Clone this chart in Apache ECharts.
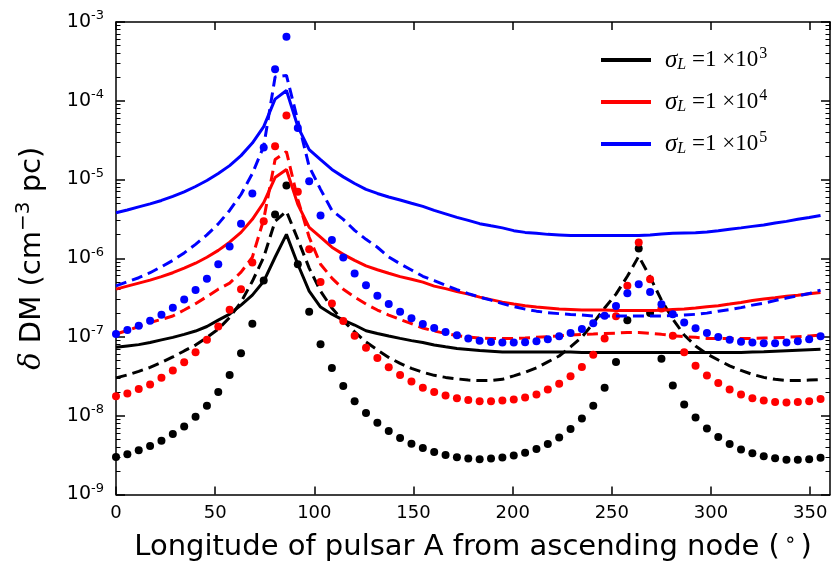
<!DOCTYPE html>
<html><head><meta charset="utf-8">
<script src="https://cdn.jsdelivr.net/npm/echarts@6/dist/echarts.min.js"></script>
<style>html,body{margin:0;padding:0;background:#fff}#c{width:832px;height:567px}</style>
</head><body><div id="c"></div>
<script>
// longitude samples (degrees), every 0.1 rad
const longitudes = [0, 5.73, 11.46, 17.19, 22.92, 28.65, 34.38, 40.11, 45.84, 51.57,
  57.30, 63.03, 68.75, 74.48, 80.21, 85.94, 91.67, 97.40, 103.13, 108.86,
  114.59, 120.32, 126.05, 131.78, 137.51, 143.24, 148.97, 154.70, 160.43, 166.16,
  171.89, 177.62, 183.35, 189.08, 194.81, 200.54, 206.27, 212.00, 217.72, 223.45,
  229.18, 234.91, 240.64, 246.37, 252.10, 257.83, 263.56, 269.29, 275.02, 280.75,
  286.48, 292.21, 297.94, 303.67, 309.40, 315.13, 320.86, 326.59, 332.32, 338.05,
  343.77, 349.50, 355.23];

// sigma_L = 1e3 (black)
const blackSolid = [7.4e-8, 7.7e-8, 8.0e-8, 8.5e-8, 9.2e-8, 9.9e-8, 1.08e-7, 1.19e-7, 1.36e-7, 1.64e-7,
  1.95e-7, 2.54e-7, 3.4e-7, 5.1e-7, 1.03e-6, 2.01e-6, 8.4e-7, 3.82e-7, 2.4e-7, 1.95e-7,
  1.64e-7, 1.42e-7, 1.2e-7, 1.11e-7, 1.03e-7, 9.6e-8, 9.0e-8, 8.5e-8, 7.9e-8, 7.5e-8,
  7.15e-8, 6.95e-8, 6.75e-8, 6.6e-8, 6.45e-8, 6.45e-8, 6.45e-8, 6.45e-8, 6.45e-8, 6.45e-8,
  6.45e-8, 6.35e-8, 6.35e-8, 6.35e-8, 6.35e-8, 6.35e-8, 6.35e-8, 6.35e-8, 6.35e-8, 6.35e-8,
  6.35e-8, 6.35e-8, 6.35e-8, 6.35e-8, 6.35e-8, 6.35e-8, 6.45e-8, 6.5e-8, 6.6e-8, 6.7e-8,
  6.8e-8, 6.9e-8, 7.0e-8];
const blackDash = [3.03e-8, 3.3e-8, 3.66e-8, 4.11e-8, 4.75e-8, 5.58e-8, 6.65e-8, 7.9e-8, 9.86e-8, 1.26e-7,
  1.77e-7, 2.77e-7, 5.1e-7, 1.03e-6, 2.94e-6, 3.94e-6, 1.74e-6, 7.5e-7, 3.82e-7, 2.33e-7,
  1.6e-7, 1.16e-7, 8.65e-8, 6.85e-8, 5.5e-8, 4.62e-8, 3.99e-8, 3.56e-8, 3.26e-8, 3.07e-8,
  2.94e-8, 2.84e-8, 2.8e-8, 2.8e-8, 2.9e-8, 3.21e-8, 3.56e-8, 4.05e-8, 4.83e-8, 5.74e-8,
  7.47e-8, 1.0e-7, 1.5e-7, 2.33e-7, 3.5e-7, 5.9e-7, 1.06e-6, 5.75e-7, 2.94e-7, 1.69e-7,
  1.06e-7, 7.7e-8, 6.1e-8, 5.1e-8, 4.3e-8, 3.77e-8, 3.35e-8, 3.07e-8, 2.9e-8, 2.8e-8,
  2.8e-8, 2.84e-8, 2.88e-8];
const blackDot = [3.0e-9, 3.24e-9, 3.64e-9, 4.13e-9, 4.83e-9, 5.86e-9, 7.3e-9, 9.7e-9, 1.34e-8, 2.0e-8,
  3.3e-8, 6.2e-8, 1.47e-7, 5.2e-7, 3.6e-6, 8.4e-6, 8.4e-7, 2.09e-7, 8.1e-8, 4.05e-8,
  2.38e-8, 1.53e-8, 1.08e-8, 8.15e-9, 6.4e-9, 5.22e-9, 4.42e-9, 3.9e-9, 3.47e-9, 3.18e-9,
  2.97e-9, 2.86e-9, 2.8e-9, 2.86e-9, 2.94e-9, 3.12e-9, 3.4e-9, 3.79e-9, 4.38e-9, 5.3e-9,
  6.8e-9, 9.2e-9, 1.34e-8, 2.26e-8, 4.8e-8, 1.63e-7, 1.33e-6, 2.02e-7, 5.3e-8, 2.43e-8,
  1.39e-8, 9.5e-9, 6.9e-9, 5.37e-9, 4.38e-9, 3.74e-9, 3.33e-9, 3.05e-9, 2.88e-9, 2.77e-9,
  2.76e-9, 2.8e-9, 2.92e-9];

// sigma_L = 1e4 (red)
const redSolid = [4.05e-7, 4.43e-7, 4.83e-7, 5.27e-7, 5.84e-7, 6.55e-7, 7.47e-7, 8.65e-7, 1.03e-6, 1.26e-6,
  1.6e-6, 2.13e-6, 3.12e-6, 5.1e-6, 1.06e-5, 1.34e-5, 4.83e-6, 2.47e-6, 1.85e-6, 1.38e-6,
  1.12e-6, 9.4e-7, 8.0e-7, 7.15e-7, 6.46e-7, 5.84e-7, 5.42e-7, 4.97e-7, 4.43e-7, 4.11e-7,
  3.77e-7, 3.5e-7, 3.21e-7, 2.98e-7, 2.77e-7, 2.62e-7, 2.49e-7, 2.4e-7, 2.33e-7, 2.26e-7,
  2.23e-7, 2.2e-7, 2.2e-7, 2.2e-7, 2.17e-7, 2.17e-7, 2.17e-7, 2.17e-7, 2.19e-7, 2.23e-7,
  2.26e-7, 2.33e-7, 2.42e-7, 2.5e-7, 2.62e-7, 2.75e-7, 2.9e-7, 3.03e-7, 3.16e-7, 3.3e-7,
  3.4e-7, 3.53e-7, 3.68e-7];
const redDash = [1.09e-7, 1.21e-7, 1.36e-7, 1.53e-7, 1.67e-7, 1.85e-7, 2.2e-7, 2.65e-7, 3.26e-7, 4.05e-7,
  4.83e-7, 6.65e-7, 1.03e-6, 3.12e-6, 1.79e-5, 2.26e-5, 5.6e-6, 1.85e-6, 8.4e-7, 5.6e-7,
  4.05e-7, 3.21e-7, 2.62e-7, 2.2e-7, 1.9e-7, 1.67e-7, 1.48e-7, 1.3e-7, 1.19e-7, 1.11e-7,
  1.04e-7, 1.0e-7, 9.7e-8, 9.6e-8, 9.6e-8, 9.6e-8, 9.7e-8, 9.9e-8, 1.01e-7, 1.03e-7,
  1.06e-7, 1.08e-7, 1.09e-7, 1.11e-7, 1.12e-7, 1.14e-7, 1.14e-7, 1.11e-7, 1.08e-7, 1.04e-7,
  1.01e-7, 9.9e-8, 9.6e-8, 9.6e-8, 9.6e-8, 9.6e-8, 9.6e-8, 9.7e-8, 9.8e-8, 9.9e-8,
  1.01e-7, 1.03e-7, 1.06e-7];
const redDot = [1.77e-8, 1.91e-8, 2.18e-8, 2.49e-8, 3.03e-8, 3.75e-8, 4.78e-8, 6.4e-8, 9.2e-8, 1.36e-7,
  2.22e-7, 4.05e-7, 8.8e-7, 2.96e-6, 2.64e-5, 6.5e-5, 7.0e-6, 1.30e-6, 5.0e-7, 2.67e-7,
  1.60e-7, 1.04e-7, 7.3e-8, 5.4e-8, 4.13e-8, 3.3e-8, 2.72e-8, 2.26e-8, 2.0e-8, 1.81e-8,
  1.67e-8, 1.58e-8, 1.53e-8, 1.53e-8, 1.56e-8, 1.61e-8, 1.71e-8, 1.86e-8, 2.15e-8, 2.54e-8,
  3.18e-8, 4.17e-8, 5.97e-8, 9.6e-8, 1.83e-7, 4.46e-7, 1.58e-6, 5.4e-7, 2.3e-7, 1.04e-7,
  6.4e-8, 4.33e-8, 3.24e-8, 2.6e-8, 2.15e-8, 1.86e-8, 1.67e-8, 1.56e-8, 1.50e-8, 1.47e-8,
  1.49e-8, 1.53e-8, 1.63e-8];

// sigma_L = 1e5 (blue)
const blueSolid = [3.79e-6, 4.1e-6, 4.49e-6, 4.9e-6, 5.42e-6, 6.1e-6, 6.95e-6, 8.15e-6, 9.7e-6, 1.19e-5,
  1.5e-5, 2.01e-5, 2.9e-5, 4.7e-5, 1.05e-4, 1.35e-4, 4.7e-5, 2.4e-5, 1.79e-5, 1.34e-5,
  1.08e-5, 8.9e-6, 7.5e-6, 6.65e-6, 6.0e-6, 5.5e-6, 5.0e-6, 4.55e-6, 4.05e-6, 3.66e-6,
  3.3e-6, 3.03e-6, 2.75e-6, 2.58e-6, 2.43e-6, 2.24e-6, 2.13e-6, 2.07e-6, 2.01e-6, 1.98e-6,
  1.95e-6, 1.95e-6, 1.95e-6, 1.95e-6, 1.95e-6, 1.95e-6, 1.95e-6, 1.98e-6, 2.03e-6, 2.07e-6,
  2.09e-6, 2.11e-6, 2.16e-6, 2.23e-6, 2.33e-6, 2.43e-6, 2.54e-6, 2.65e-6, 2.8e-6, 2.94e-6,
  3.12e-6, 3.3e-6, 3.5e-6];
const blueDash = [4.46e-7, 5.04e-7, 5.66e-7, 6.55e-7, 7.8e-7, 9.4e-7, 1.17e-6, 1.5e-6, 1.98e-6, 2.73e-6,
  4.05e-6, 6.45e-6, 1.19e-5, 2.64e-5, 2.0e-4, 2.1e-4, 5.6e-5, 1.46e-5, 7.5e-6, 4.05e-6,
  3.12e-6, 2.26e-6, 1.74e-6, 1.38e-6, 1.04e-6, 8.5e-7, 7.1e-7, 5.9e-7, 5.2e-7, 4.55e-7,
  3.99e-7, 3.56e-7, 3.21e-7, 2.94e-7, 2.65e-7, 2.43e-7, 2.26e-7, 2.13e-7, 2.04e-7, 1.98e-7,
  1.93e-7, 1.9e-7, 1.85e-7, 1.85e-7, 1.85e-7, 1.85e-7, 1.85e-7, 1.85e-7, 1.85e-7, 1.87e-7,
  1.9e-7, 1.94e-7, 2.01e-7, 2.13e-7, 2.23e-7, 2.36e-7, 2.54e-7, 2.69e-7, 2.9e-7, 3.12e-7,
  3.33e-7, 3.56e-7, 3.94e-7];
const blueDot = [1.09e-7, 1.23e-7, 1.39e-7, 1.61e-7, 1.91e-7, 2.35e-7, 3.0e-7, 3.94e-7, 5.5e-7, 8.4e-7,
  1.41e-6, 2.75e-6, 6.65e-6, 2.54e-5, 2.52e-4, 6.5e-4, 4.5e-5, 9.5e-6, 3.5e-6, 1.71e-6,
  1.02e-6, 6.4e-7, 4.55e-7, 3.33e-7, 2.62e-7, 2.09e-7, 1.73e-7, 1.46e-7, 1.30e-7, 1.16e-7,
  1.05e-7, 9.6e-8, 8.97e-8, 8.65e-8, 8.5e-8, 8.5e-8, 8.55e-8, 8.8e-8, 9.35e-8, 1.02e-7,
  1.12e-7, 1.26e-7, 1.50e-7, 1.86e-7, 2.47e-7, 3.6e-7, 4.69e-7, 3.74e-7, 2.6e-7, 1.95e-7,
  1.53e-7, 1.29e-7, 1.12e-7, 1.0e-7, 9.25e-8, 8.7e-8, 8.5e-8, 8.3e-8, 8.3e-8, 8.5e-8,
  8.8e-8, 9.35e-8, 1.02e-7];

const xTickValues = [0, 50, 100, 150, 200, 250, 300, 350];
const yDecades = [-9, -8, -7, -6, -5, -4, -3];
const minorMultipliers = [2, 3, 4, 5, 6, 7, 8, 9];
const legendExponents = [3, 4, 5];
const groupColors = ['#000000', '#ff0000', '#0000ff'];
const legendNames = ['sigma1e3', 'sigma1e4', 'sigma1e5'];

const minorLogs = [];
yDecades.slice(0, -1).forEach(d => minorMultipliers.forEach(m => minorLogs.push(d + Math.log10(m))));

const pair = arr => longitudes.map((x, i) => [x, arr[i]]);
const groups = [
  [blackSolid, blackDash, blackDot],
  [redSolid, redDash, redDot],
  [blueSolid, blueDash, blueDot]
];
const series = [];
groups.forEach((g, gi) => {
  const c = groupColors[gi];
  series.push({ name: legendNames[gi], type: 'line', data: pair(g[0]), symbol: 'none', showSymbol: false,
    lineStyle: { color: c, width: 3 }, itemStyle: { color: c }, z: 2 + gi });
  series.push({ name: legendNames[gi] + 'd', type: 'line', data: pair(g[1]), symbol: 'none', showSymbol: false,
    lineStyle: { color: c, width: 3, type: [11, 6] }, itemStyle: { color: c }, z: 2 + gi });
  series.push({ name: legendNames[gi] + 'p', type: 'scatter', data: pair(g[2]), symbol: 'circle', symbolSize: 8,
    itemStyle: { color: c, opacity: 1 }, z: 2 + gi });
});

const axisLineStyle = { color: '#000', width: 1.5 };
const tickFont = 'DejaVu Sans';

const option = {
  animation: false,
  backgroundColor: '#fff',
  grid: { left: 116, right: 2, top: 22, bottom: 71, containLabel: false },
  legend: {
    data: legendNames, orient: 'vertical', left: 596, top: 41,
    itemWidth: 50, itemHeight: 4, itemGap: 15, icon: 'rect',
    formatter: name => {
      const e = legendExponents[legendNames.indexOf(name)];
      return '{g|σ}{l|L}{t| =1 ×10}{e|' + e + '}';
    },
    textStyle: {
      color: '#000',
      rich: {
        g: { fontFamily: 'Liberation Serif', fontStyle: 'italic', fontSize: 25, padding: [0, 0, 0, 9] },
        l: { fontFamily: 'Liberation Serif', fontStyle: 'italic', fontSize: 16, padding: [10, 0, 0, 0] },
        t: { fontFamily: 'Liberation Serif', fontSize: 23 },
        e: { fontFamily: 'Liberation Serif', fontSize: 16, padding: [0, 0, 12, 1] }
      }
    }
  },
  xAxis: [{
    type: 'value', min: 0, max: 360, interval: 50, position: 'bottom',
    axisLine: { show: true, lineStyle: axisLineStyle },
    axisTick: { show: true, inside: true, length: 8, lineStyle: { color: '#000', width: 1.5 } },
    axisLabel: { show: true, margin: 10, color: '#000', fontFamily: tickFont, fontSize: 18, showMaxLabel: false,
      formatter: v => xTickValues.includes(v) ? String(v) : '' },
    splitLine: { show: false },
    name: 'Longitude of pulsar A from ascending node ({d|∘})', nameLocation: 'middle', nameGap: 36,
    nameTextStyle: { color: '#000', fontFamily: tickFont, fontSize: 29,
      rich: { d: { fontFamily: tickFont, fontSize: 20, padding: [0, 4, 14, 4] } } }
  }, {
    type: 'value', min: 0, max: 360, interval: 50, position: 'top',
    axisLine: { show: true, lineStyle: axisLineStyle },
    axisTick: { show: true, inside: true, length: 8, lineStyle: { color: '#000', width: 1.5 } },
    axisLabel: { show: false }, splitLine: { show: false }
  }],
  yAxis: [{
    type: 'log', min: 1e-9, max: 1e-3, logBase: 10, position: 'left',
    axisLine: { show: true, lineStyle: axisLineStyle },
    axisTick: { show: true, inside: true, length: 9, lineStyle: { color: '#000', width: 1.5 } },
    minorTick: { show: false },
    axisLabel: { show: true, margin: 12, color: '#000', fontFamily: tickFont,
      formatter: v => '{b|10}{s|' + Math.round(Math.log10(v)) + '}',
      rich: { b: { fontFamily: tickFont, fontSize: 19, color: '#000' },
              s: { fontFamily: tickFont, fontSize: 13, color: '#000', padding: [0, 0, 12, 0] } } },
    splitLine: { show: false },
    name: '{d|δ} DM (cm{s|−3} pc)', nameLocation: 'middle', nameGap: 66, nameRotate: 90,
    nameTextStyle: { color: '#000', fontFamily: tickFont, fontSize: 29,
      rich: { d: { fontFamily: 'DejaVu Serif', fontStyle: 'italic', fontSize: 29 },
              s: { fontFamily: tickFont, fontSize: 20, padding: [0, 0, 16, 0] } } }
  }, {
    type: 'value', min: -9, max: -3, position: 'left',
    axisLine: { show: false },
    axisTick: { show: true, inside: true, length: 4.5, customValues: minorLogs, lineStyle: { color: '#000', width: 1 } },
    axisLabel: { show: false }, splitLine: { show: false }
  }, {
    type: 'value', min: -9, max: -3, interval: 1, position: 'right',
    axisLine: { show: true, lineStyle: axisLineStyle },
    axisTick: { show: true, inside: true, length: 9, lineStyle: { color: '#000', width: 1.5 } },
    axisLabel: { show: false }, splitLine: { show: false }
  }, {
    type: 'value', min: -9, max: -3, position: 'right',
    axisLine: { show: false },
    axisTick: { show: true, inside: true, length: 4.5, customValues: minorLogs, lineStyle: { color: '#000', width: 1 } },
    axisLabel: { show: false }, splitLine: { show: false }
  }],
  series: series
};

const chart = echarts.init(document.getElementById('c'), null, { renderer: 'canvas' });
chart.setOption(option);
</script>
</body></html>
